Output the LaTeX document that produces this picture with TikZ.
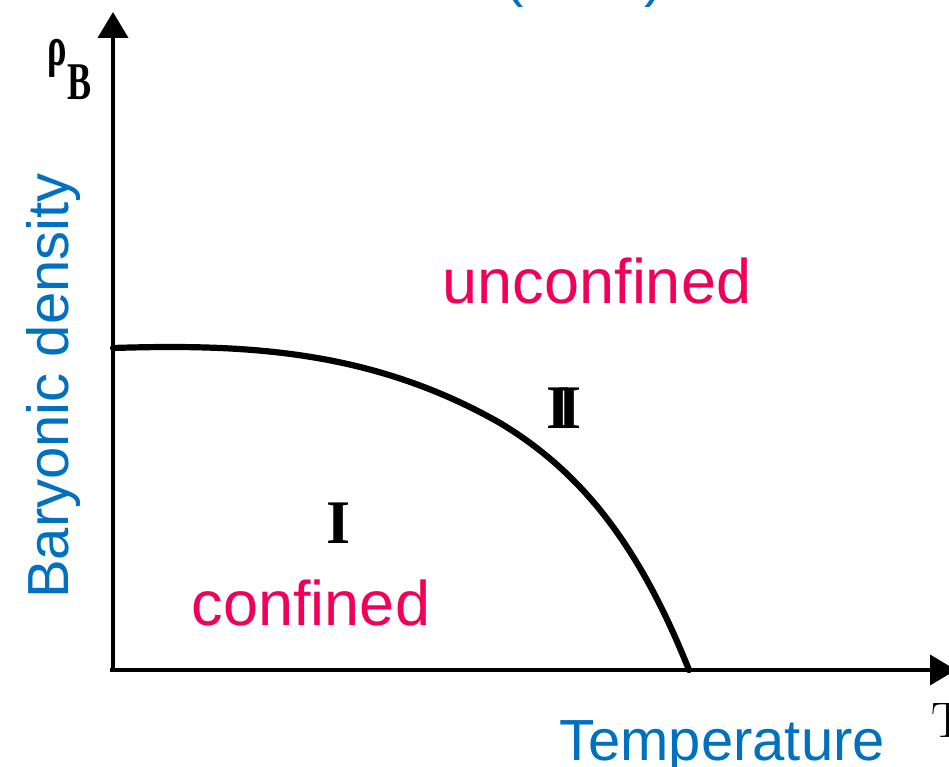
\documentclass[tikz,border=0pt]{standalone}
\usepackage{fontspec}
\setmainfont{Liberation Sans}
\newfontfamily\tnr{Liberation Serif}
\newfontfamily\lmserif{Latin Modern Roman}
\usetikzlibrary{arrows.meta}
\definecolor{lblblue}{RGB}{0,112,192}
\definecolor{lblpink}{RGB}{240,0,90}
\tikzset{
  axisline/.style={line width=3.8pt,-{Triangle[length=26pt,width=30pt]}},
  boundary/.style={line width=6.2pt,line cap=round,line join=round},
  bluelbl/.style={text=lblblue,font=\fontsize{58}{60}\selectfont,inner sep=0pt},
  pinklbl/.style={text=lblpink,font=\fontsize{63}{66}\selectfont,inner sep=0pt},
  roman/.style={font=\tnr\bfseries\fontsize{62}{64}\selectfont,inner sep=0pt}
}
\begin{document}
\begin{tikzpicture}[x=1pt,y=-1pt]
\useasboundingbox (0,0) rectangle (949,767);
\clip (0,0) rectangle (949,767);
\fill[white] (0,0) rectangle (949,767);
\coordinate (origin) at (113,670);
\coordinate (ytip) at (113,12);
\coordinate (xstart) at (110,670);
\coordinate (xtip) at (956,670);
\draw[axisline] (origin) -- (ytip);
\draw[axisline] (xstart) -- (xtip);
\coordinate (cstart) at (113,348);
\coordinate (cmid) at (500,423);
\coordinate (cend) at (689,670);
\draw[boundary] (cstart) .. controls (243,344) and (370,349) .. (cmid)
                        .. controls (585,474) and (641,550) .. (cend);
% labels
\node[pinklbl,anchor=base] (uncon) at (597,303) {unconfined};
\node[pinklbl,anchor=base] (con) at (311,625) {confined};
\node[bluelbl,anchor=base,rotate=90] (ylab) at (68,386) {Baryonic density};
\node[bluelbl,anchor=base] (xlab) at (722,760) {Temperature};
\node[roman,anchor=base] (one) at (339,543) {I};
\node[roman,anchor=base] (two) at (564,428) {I\kern-13pt I};
% axis symbols
\node[inner sep=0pt,anchor=base,font=\tnr\bfseries\fontsize{56}{58}\selectfont] (rho) at (57,66) {\scalebox{0.65}[1]{ρ}};
\node[inner sep=0pt,anchor=base,font=\tnr\bfseries\fontsize{53}{55}\selectfont] (bsub) at (80,100) {\scalebox{0.68}[1]{B}};
\node[inner sep=0pt,anchor=base west,font=\lmserif\fontsize{50}{52}\selectfont] (tsym) at (931,737) {T};
% cut-off title parentheses
\node[bluelbl,anchor=base] (lpar) at (514,-4) {(};
\node[bluelbl,anchor=base] (rpar) at (654,-4) {)};
\end{tikzpicture}
\end{document}
